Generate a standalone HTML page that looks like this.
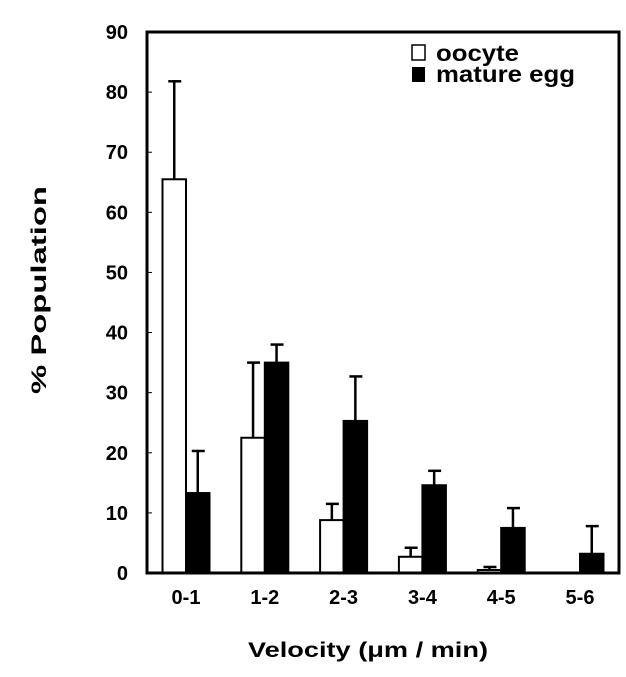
<!DOCTYPE html>
<html><head><meta charset="utf-8"><style>
body{margin:0;background:#fff;}
svg text{font-family:"Liberation Sans",Arial,sans-serif;font-weight:bold;fill:#000;}
</style></head><body>
<svg id="chart" width="626" height="672" viewBox="0 0 626 672" xmlns="http://www.w3.org/2000/svg">
<g id="bars"></g>
<rect x="147" y="32" width="472" height="541" fill="none" stroke="#000" stroke-width="3"/>
<g id="yticks"></g>
<g id="xticks"></g>
<text transform="translate(46,290) rotate(-90)" text-anchor="middle" font-size="21" textLength="208" lengthAdjust="spacingAndGlyphs">% Population</text>
<text x="368" y="657" text-anchor="middle" font-size="21" textLength="240" lengthAdjust="spacingAndGlyphs">Velocity  (μm / min)</text>
<g>
<rect x="412" y="45" width="13" height="15" fill="#fff" stroke="#000" stroke-width="1.5"/>
<text x="436" y="61" font-size="23" textLength="83" lengthAdjust="spacingAndGlyphs">oocyte</text>
<rect x="412" y="67" width="13" height="15" fill="#000"/>
<text x="436" y="82" font-size="23" textLength="139" lengthAdjust="spacingAndGlyphs">mature egg</text>
</g>
</svg>
<script>
const categories = ["0-1","1-2","2-3","3-4","4-5","5-6"];
const oocyte = [65.5, 22.5, 8.8, 2.7, 0.5, 0];
const oocyteErr = [16.3, 12.5, 2.7, 1.5, 0.5, 0];
const mature = [13.3, 35, 25.3, 14.6, 7.5, 3.2];
const matureErr = [7, 3, 7.4, 2.4, 3.3, 4.6];
const yTicks = [0,10,20,30,40,50,60,70,80,90];

const NS = "http://www.w3.org/2000/svg";
const y0 = 573, yTop = 32, yMax = 90;
function yScale(v){ return y0 - (y0 - yTop) * v / yMax; }
function xCenter(i){ return 186 + i * 78.8; }
const bw = 23.5;
function mk(tag, attrs, parent){
  const e = document.createElementNS(NS, tag);
  for (const k in attrs) e.setAttribute(k, attrs[k]);
  parent.appendChild(e); return e;
}
const bars = document.getElementById('bars');
function drawBar(x, v, err, fill, name){
  const top = yScale(v);
  if (err > 0) {
    const et = yScale(v + err);
    const cx = x + bw/2;
    const l = mk('line', {x1:cx, x2:cx, y1:top, y2:et, stroke:'#000','stroke-width':2.5}, bars);
    
    
    const c = mk('line', {x1:cx-6, x2:cx+7, y1:et, y2:et, stroke:'#000','stroke-width':2.5}, bars);
    
    
  }
  if (v > 0) {
    const r = mk('rect', {x:x, y:top, width:bw, height:y0-top, fill:fill, stroke:'#000','stroke-width':2}, bars);
    
    
  }
}
categories.forEach((c, i) => {
  const xc = xCenter(i);
  drawBar(xc - bw, oocyte[i], oocyteErr[i], '#fff', 'bar-oocyte-' + c);
  drawBar(xc, mature[i], matureErr[i], '#000', 'bar-mature-' + c);
  const t = mk('text', {x:xc, y:604, 'text-anchor':'middle', 'font-size':20}, document.getElementById('xticks'));
  t.textContent = c;
  
  
});
const yt = document.getElementById('yticks');
yTicks.forEach(v => {
  const y = yScale(v);
  const l = mk('line', {x1:147, x2:152, y1:y, y2:y, stroke:'#000','stroke-width':1}, yt);
  
  
  const t = mk('text', {x:128, y:y+7, 'text-anchor':'end', 'font-size':20}, yt);
  t.textContent = v;
  
  
});
</script>
</body></html>
